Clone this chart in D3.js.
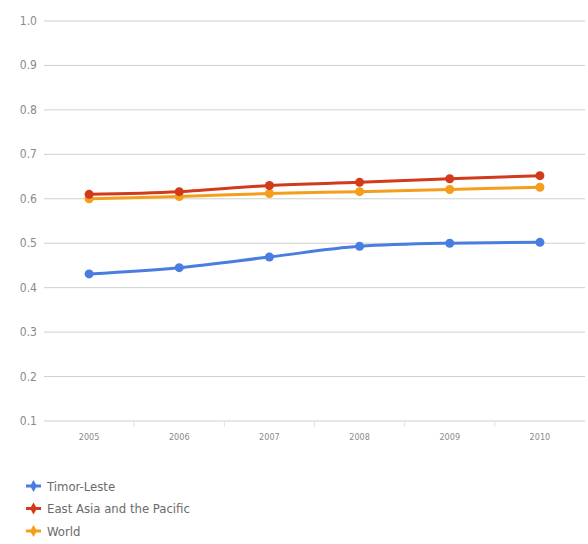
<!DOCTYPE html>
<html>
<head>
<meta charset="utf-8">
<script src="https://cdn.jsdelivr.net/npm/d3@7"></script>
<style>
  body { margin: 0; background: #fff; }
  svg { font-family: "DejaVu Sans Condensed", "Liberation Sans Narrow", sans-serif; }
  .grid line { stroke: #cfcfcf; stroke-width: 1; }
  .ylab { fill: #8a8a8a; font-size: 12px; }
  .xlab { fill: #8a8a8a; font-size: 9px; }
  .legend text { fill: #6a6a6a; font-size: 13px; }
</style>
</head>
<body>
<div id="app"></div>
<script>
var years = ["2005","2006","2007","2008","2009","2010"]
var yTicks = [0.1,0.2,0.3,0.4,0.5,0.6,0.7,0.8,0.9,1.0]
var seriesNames = ["Timor-Leste","East Asia and the Pacific","World"]
var seriesColours = ["#4a7de0","#d23a1c","#f59e1b"]
var timorLeste = [0.431,0.445,0.469,0.493,0.500,0.502]
var eastAsia = [0.610,0.616,0.630,0.637,0.645,0.652]
var world = [0.600,0.605,0.612,0.616,0.621,0.626]

var allSeries = [timorLeste, eastAsia, world]

var width = 588, height = 544
var svg = d3.select("#app").append("svg").attr("width",width).attr("height",height)

var x = d3.scaleBand().domain(years).range([44,585])
var y = d3.scaleLinear().domain([0.1,1.0]).range([421,21])

// gridlines + y labels
var grid = svg.append("g").classed("grid",true)
grid.selectAll("line").data(yTicks).enter().append("line")
  .attr("x1",44).attr("x2",585)
  .attr("y1",d=>y(d)).attr("y2",d=>y(d))
svg.selectAll(".ylab").data(yTicks).enter().append("text").classed("ylab",true)
  .attr("x",37).attr("y",d=>y(d)+4).attr("text-anchor","end")
  .text(d=>d.toFixed(1))

// category ticks under the axis
svg.selectAll(".xtick").data(years.slice(1)).enter().append("line").classed("xtick",true)
  .attr("x1",d=>x(d)).attr("x2",d=>x(d)).attr("y1",421).attr("y2",427)
  .style("stroke","#e2e2e2")
svg.selectAll(".xlab").data(years).enter().append("text").classed("xlab",true)
  .attr("x",d=>x(d)+x.bandwidth()/2).attr("y",440).attr("text-anchor","middle")
  .text(d=>d)

var line = d3.line().curve(d3.curveMonotoneX)
  .x((d,i)=>x(years[i])+x.bandwidth()/2).y(d=>y(d))

// world first, then east asia, then timor on top
var order = [2,1,0]
order.forEach(function(k){
  var g = svg.append("g")
  g.append("path").datum(allSeries[k]).attr("d",line)
    .style("fill","none").style("stroke",seriesColours[k]).style("stroke-width",3)
  g.selectAll("circle").data(allSeries[k]).enter().append("circle")
    .attr("cx",(d,i)=>x(years[i])+x.bandwidth()/2).attr("cy",d=>y(d)).attr("r",4.5)
    .style("fill",seriesColours[k])
})

// legend
var diamond = d3.symbol().type(d3.symbolDiamond).size(40)
var legend = svg.append("g").classed("legend",true)
var items = legend.selectAll("g").data(seriesNames).enter().append("g")
  .attr("transform",(d,i)=>"translate(26,"+(486+i*22.5)+")")
items.append("line").attr("x1",0).attr("x2",15).attr("y1",0).attr("y2",0)
  .style("stroke",(d,i)=>seriesColours[i]).style("stroke-width",3)
items.append("path").attr("d",diamond).attr("transform","translate(7.5,0)")
  .style("fill",(d,i)=>seriesColours[i])
items.append("text").attr("x",21).attr("y",4.5).text(d=>d)
</script>
</body>
</html>
